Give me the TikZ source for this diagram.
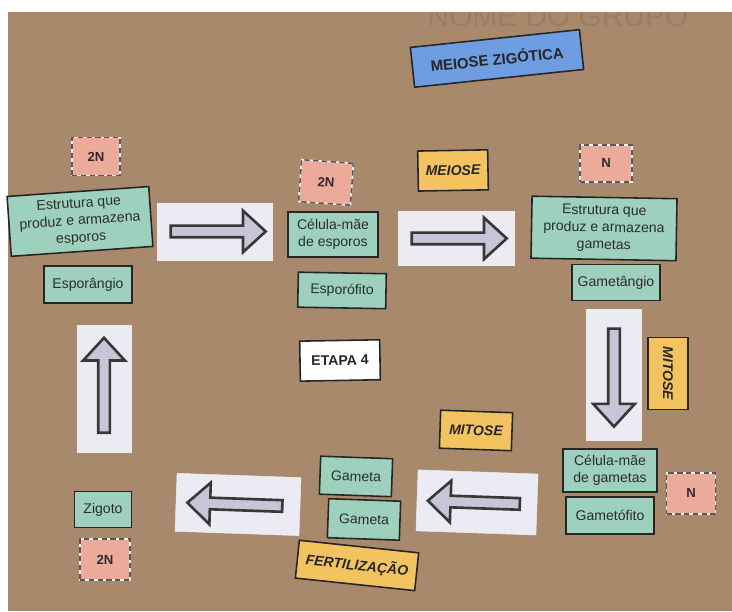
\documentclass[tikz,border=0pt]{standalone}
\usepackage{fontspec}
\setmainfont{Liberation Sans}
\usetikzlibrary{arrows.meta,positioning,shapes.arrows,shapes.geometric}

\definecolor{cardboard}{RGB}{168,137,108}
\definecolor{mint}{RGB}{158,208,190}
\definecolor{salmon}{RGB}{236,170,155}
\definecolor{ochre}{RGB}{243,195,95}
\definecolor{sky}{RGB}{110,157,225}
\definecolor{paper}{RGB}{236,235,243}
\definecolor{lilac}{RGB}{200,196,218}
\definecolor{ink}{RGB}{45,45,45}

\begin{document}
\begin{tikzpicture}[%
    x=0.02cm,
    y=-0.02cm,
    card/.style={draw=black!85, line width=0.9pt, align=center, inner sep=1pt, text=ink, font={\fontsize{8}{9.8}\selectfont}},
    stage/.style={card, fill=mint},
    ploidy/.style={card, fill=salmon, draw=white!80!salmon, font={\bfseries\fontsize{7.5}{9}\selectfont},
        postaction={draw=black!65, line width=0.9pt, dash pattern=on 3pt off 2pt}},
    process/.style={card, fill=ochre, text=black!85, font={\bfseries\itshape\fontsize{8}{9}\selectfont}},
    title/.style={card, fill=sky, text=black!85, font={\bfseries\fontsize{8.5}{10}\selectfont}},
    tag/.style={card, fill=white, text=black!85, font={\bfseries\fontsize{8}{9}\selectfont}},
    arrowcard/.style={fill=paper, draw=white!85!gray, line width=0.3pt, inner sep=0pt},
    blockarrow/.style={single arrow, draw=black!78, fill=lilac, line width=1.5pt, inner sep=0.09cm,
        single arrow head extend=0.3cm, single arrow tip angle=85, minimum height=1.9cm}
    ]

    % cardboard
    \fill[white] (0,0) rectangle (732,609);
    \fill[cardboard] (8,10) rectangle (732,609);
    \node at (558,14) [text=cardboard!92!black, font={\fontsize{17}{17}\selectfont}] (pencil) {NOME DO GRUPO};
    \fill[white] (0,0) rectangle (732,10);

    \node at (497,56) [title, rotate=6, minimum width=3.4cm, minimum height=0.8cm] (zygmei) {MEIOSE ZIGÓTICA};

    % diploid phase
    \node at (96,154) [ploidy, minimum width=0.96cm, minimum height=0.76cm] (dipA) {2N};
    \node at (80,219) [stage, rotate=4, minimum width=2.84cm, minimum height=1.2cm] (sporstruct) {Estrutura que\\produz e armazena\\esporos};
    \node at (88,282) [stage, minimum width=1.76cm, minimum height=0.74cm] (sporang) {Esporângio};

    \node at (215,229) [arrowcard, minimum width=2.3cm, minimum height=1.14cm] (cardA) {};
    \node at (cardA) [blockarrow] (arrA) {};

    \node at (326,180) [ploidy, rotate=-4, minimum width=1.04cm, minimum height=0.84cm] (dipB) {2N};
    \node at (333,232) [stage, minimum width=1.8cm, minimum height=0.9cm] (sporcell) {Célula-mãe\\de esporos};
    \node at (342,288) [stage, rotate=-1, minimum width=1.76cm, minimum height=0.7cm] (sporoph) {Esporófito};

    \node at (453,168) [process, rotate=1, minimum width=1.4cm, minimum height=0.8cm] (meiosis) {MEIOSE};
    \node at (456,236) [arrowcard, minimum width=2.32cm, minimum height=1.08cm] (cardB) {};
    \node at (cardB) [blockarrow] (arrB) {};

    % haploid phase
    \node at (606,161) [ploidy, minimum width=1.04cm, minimum height=0.74cm] (hapA) {N};
    \node at (604,226) [stage, rotate=-1, minimum width=2.9cm, minimum height=1.24cm] (gamstruct) {Estrutura que\\produz e armazena\\gametas};
    \node at (616,280) [stage, minimum width=1.76cm, minimum height=0.72cm] (gametang) {Gametângio};

    \node at (104,386) [arrowcard, minimum width=1.08cm, minimum height=2.54cm] (cardC) {};
    \node at (cardC) [blockarrow, rotate=90] (arrC) {};

    \node at (340,358) [tag, rotate=1, minimum width=1.6cm, minimum height=0.8cm] (step) {ETAPA 4};

    \node at (614,372) [arrowcard, minimum width=1.1cm, minimum height=2.62cm] (cardD) {};
    \node at (cardD) [blockarrow, rotate=-90, minimum height=1.96cm] (arrD) {};
    \node at (668,371) [process, rotate=-90, minimum width=1.44cm, minimum height=0.8cm] (mitosisV) {MITOSE};

    \node at (476,428) [process, rotate=-2, minimum width=1.44cm, minimum height=0.76cm] (mitosisH) {MITOSE};
    \node at (610,468) [stage, minimum width=1.88cm, minimum height=0.86cm] (gamcell) {Célula-mãe\\de gametas};
    \node at (610,513) [stage, minimum width=1.76cm, minimum height=0.74cm] (gametoph) {Gametófito};
    \node at (691,491) [ploidy, minimum width=0.98cm, minimum height=0.82cm] (hapB) {N};

    \node at (477,500) [arrowcard, rotate=-2, minimum width=2.4cm, minimum height=1.22cm] (cardE) {};
    \node at (cardE) [blockarrow, rotate=178, minimum height=1.84cm] (arrE) {};

    % fertilisation
    \node at (356,474) [stage, rotate=-2, minimum width=1.44cm, minimum height=0.76cm] (gamA) {Gameta};
    \node at (364,517) [stage, rotate=-2, minimum width=1.44cm, minimum height=0.78cm] (gamB) {Gameta};
    \node at (357,563) [process, rotate=-6, minimum width=2.4cm, minimum height=0.76cm] (fert) {FERTILIZAÇÃO};

    \node at (238,502) [arrowcard, rotate=-2, minimum width=2.48cm, minimum height=1.16cm] (cardF) {};
    \node at (cardF) [blockarrow, rotate=178] (arrF) {};

    \node at (103,507) [stage, minimum width=1.14cm, minimum height=0.72cm] (zygote) {Zigoto};
    \node at (105,557) [ploidy, minimum width=1.0cm, minimum height=0.82cm] (dipC) {2N};

    \useasboundingbox (0,0) rectangle (732,609);
\end{tikzpicture}
\end{document}
